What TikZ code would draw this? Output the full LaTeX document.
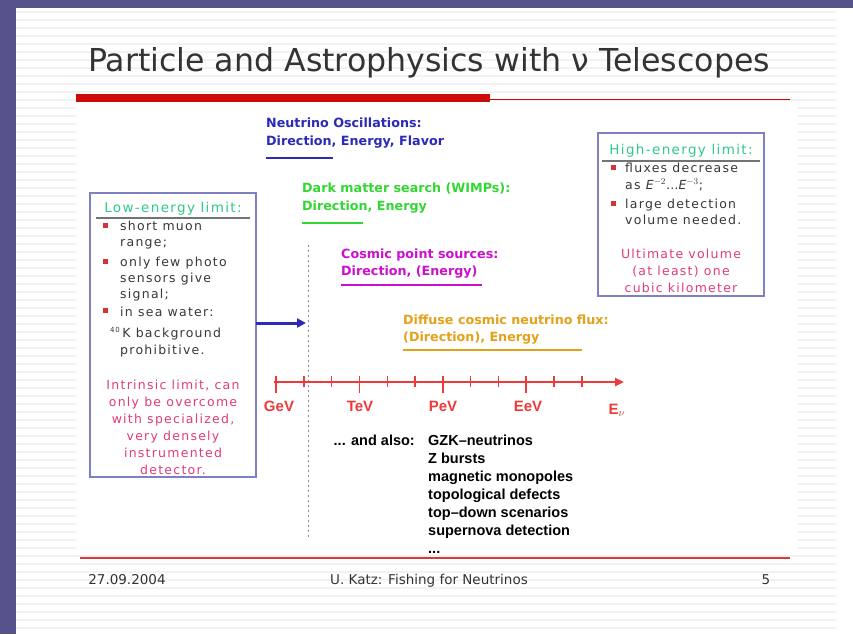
\documentclass[tikz,border=0pt]{standalone}
\usepackage{fontspec}
\setmainfont{Liberation Sans}
\newfontfamily\boxfont[LetterSpace=10]{DejaVu Sans}
\newfontfamily\wideface{DejaVu Sans}
\usetikzlibrary{positioning,arrows.meta}
\definecolor{slateback}{HTML}{55538A}
\definecolor{slidered}{HTML}{CC0A0A}
\definecolor{axisred}{HTML}{EE3A3A}
\definecolor{oscblue}{HTML}{2B2BB8}
\definecolor{wimpgreen}{HTML}{33D633}
\definecolor{limitgreen}{HTML}{2FC98A}
\definecolor{pointmag}{HTML}{CC11CC}
\definecolor{diffuseorange}{HTML}{E3A21A}
\definecolor{notepink}{HTML}{E23C7A}
\definecolor{boxframe}{HTML}{7F7FC4}

\begin{document}
\begin{tikzpicture}[x=1pt,y=-1pt,
  lbl/.style={anchor=base west,inner sep=0pt,font=\wideface\fontsize{12.7}{15}\selectfont\bfseries},
  boxtxt/.style={anchor=base west,inner sep=0pt,text=black!78,font=\boxfont\fontsize{12.5}{14}\selectfont},
  boxhead/.style={anchor=base,inner sep=0pt,text=limitgreen,font=\boxfont\fontsize{13.5}{15}\selectfont},
  note/.style={anchor=base,inner sep=0pt,text=notepink,font=\boxfont\fontsize{12.5}{14}\selectfont},
  alsotxt/.style={anchor=base west,inner sep=0pt,font=\fontsize{14.5}{17}\selectfont\bfseries},
  unit/.style={anchor=base,inner sep=0pt,text=axisred,font=\fontsize{15}{18}\selectfont\bfseries},
  foot/.style={anchor=base,inner sep=0pt,text=black!80,font=\wideface\fontsize{13.5}{16}\selectfont},
  limitbox/.style={draw=boxframe,line width=1.6pt},
  bullet/.style={fill=axisred!90!black}]
\useasboundingbox (0,0) rectangle (853,634);
% frame and slide
\fill[slateback] (0,0) rectangle (853,634);
\fill[white] (16,8) rectangle (853,634);
\foreach \s in {12,20,...,628}
  \draw[black!5,line width=1.2pt] (16,\s) -- (836,\s);
\fill[white] (76,104) rectangle (798,554);
% title and rules
\node[anchor=base,inner sep=0pt,text=black!80,font=\wideface\fontsize{31.6}{36}\selectfont] (title) at (429,71)
  {Particle and Astrophysics with ν Telescopes};
\fill[slidered] (76,94) rectangle (490,102);
\draw[slidered,line width=1.2pt] (490,99.5) -- (790,99.5);
\draw[slidered!80,line width=1.8pt] (80,558) -- (790,558);
% footer
\node[foot] (date) at (127,584) {27.09.2004};
\node[foot] (talk) at (429,584) {U. Katz: Fishing for Neutrinos};
\node[foot] (page) at (766,584) {5};
%
% low-energy box
\draw[limitbox] (90,193) rectangle (256,477);
\coordinate (lowexit) at (256,323);
\node[boxhead] (lowtitle) at (173,212) {Low-energy limit:};
\draw[black!55,line width=1.5pt] (96,218) -- (250,218);
\foreach \b in {226,262,311} \fill[bullet] (103,\b-3) rectangle (107.5,\b+1.5);
\node[boxtxt] (low1) at (120,230) {short muon};
\node[boxtxt] (low2) at (120,246) {range;};
\node[boxtxt] (low3) at (120,266) {only few photo};
\node[boxtxt] (low4) at (120,282) {sensors give};
\node[boxtxt] (low5) at (120,298) {signal;};
\node[boxtxt] (low6) at (120,316) {in sea water:};
\node[boxtxt] (low7) at (110,337) {\textsuperscript{\fontsize{7}{8}\selectfont 40}\,K background};
\node[boxtxt] (low8) at (120,354) {prohibitive.};
\node[note] (lown1) at (173,389) {Intrinsic limit, can};
\node[note] (lown2) at (173,406) {only be overcome};
\node[note] (lown3) at (173,423) {with specialized,};
\node[note] (lown4) at (173,440) {very densely};
\node[note] (lown5) at (173,457) {instrumented};
\node[note] (lown6) at (173,474) {detector.};
%
% high-energy box
\draw[limitbox] (598,133) rectangle (764,296);
\node[boxhead] (hightitle) at (681,154) {High-energy limit:};
\draw[black!55,line width=1.5pt] (602,161) -- (760,161);
\foreach \b in {168,204} \fill[bullet] (611,\b-3) rectangle (615.5,\b+1.5);
\node[boxtxt] (high1) at (625,172) {fluxes decrease};
\node[boxtxt] (high2) at (625,189) {as {\itshape E}$^{-2}$\ldots{\itshape E}$^{-3}$;};
\node[boxtxt] (high3) at (625,208) {large detection};
\node[boxtxt] (high4) at (625,224) {volume needed.};
\node[note] (highn1) at (681,258) {Ultimate volume};
\node[note] (highn2) at (681,275) {(at least) one};
\node[note] (highn3) at (681,292) {cubic kilometer};
%
% physics topics
\node[lbl,text=oscblue] (osc) at (266,127) {Neutrino Oscillations:};
\node[lbl,text=oscblue] (oscq) at (266,145) {Direction, Energy, Flavor};
\draw[oscblue,line width=2pt] (266,158) -- (333,158);
\node[lbl,text=wimpgreen] (wimp) at (302,192) {Dark matter search (WIMPs):};
\node[lbl,text=wimpgreen] (wimpq) at (302,210) {Direction, Energy};
\draw[wimpgreen,line width=2pt] (302,223) -- (363,223);
\node[lbl,text=pointmag] (point) at (341,258) {Cosmic point sources:};
\node[lbl,text=pointmag] (pointq) at (341,275) {Direction, (Energy)};
\draw[pointmag,line width=2pt] (341,285) -- (482,285);
\node[lbl,text=diffuseorange] (diffuse) at (403,324) {Diffuse cosmic neutrino flux:};
\node[lbl,text=diffuseorange] (diffuseq) at (403,341) {(Direction), Energy};
\draw[diffuseorange,line width=2pt] (403,350) -- (582,350);
%
% threshold line and arrow
\draw[black!45,dash pattern=on 2pt off 3pt,line width=0.8pt] (308,245) -- (308,540);
\coordinate (cut) at (306,323);
\draw[oscblue,line width=3pt,-{Triangle[length=9pt,width=9pt]}] (lowexit) -- (cut);
%
% energy axis
\coordinate (gev) at (274,382);
\coordinate (axend) at (624,382);
\draw[axisred,line width=2.6pt,-{Triangle[length=9pt,width=8pt]}] (gev) -- (axend);
\foreach \i in {0,...,11}{
  \pgfmathsetmacro{\tx}{276+27.8*\i}
  \ifnum\numexpr\i-3*(\i/3)\relax=0
    \draw[axisred,line width=1.8pt] (\tx,376) -- (\tx,393);
  \else
    \draw[axisred,line width=1.4pt] (\tx,376) -- (\tx,387);
  \fi
}
\node[unit] (unitg) at (279,411) {GeV};
\node[unit] (unitt) at (360,411) {TeV};
\node[unit] (unitp) at (443,411) {PeV};
\node[unit] (unite) at (528,411) {EeV};
\node[unit] (unitn) at (617,414) {E$_\nu$};
%
% further topics
\node[alsotxt,anchor=base east] (also) at (415,445) {... and also:};
\node[alsotxt] (gzk) at (428,445) {GZK--neutrinos};
\node[alsotxt,below=18pt of gzk.base west,anchor=base west] (zb) {Z bursts};
\node[alsotxt,below=18pt of zb.base west,anchor=base west] (mono) {magnetic monopoles};
\node[alsotxt,below=18pt of mono.base west,anchor=base west] (topo) {topological defects};
\node[alsotxt,below=18pt of topo.base west,anchor=base west] (topdown) {top--down scenarios};
\node[alsotxt,below=18pt of topdown.base west,anchor=base west] (sn) {supernova detection};
\node[alsotxt,below=18pt of sn.base west,anchor=base west] (more) {...};
\end{tikzpicture}
\end{document}
